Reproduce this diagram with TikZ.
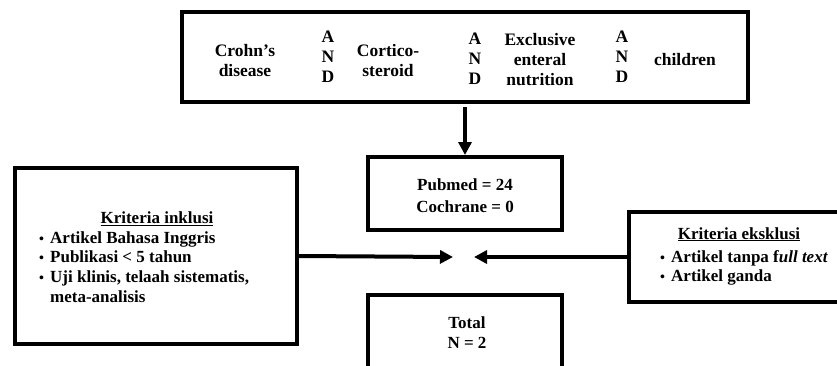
\documentclass[tikz,border=0pt]{standalone}
\usepackage{fontspec}
\setmainfont{Liberation Serif}
\usetikzlibrary{arrows.meta}
\tikzset{
  box/.style={draw=black, line width=4pt, fill=white, inner sep=0pt},
  txt/.style={font=\fontsize{17}{20}\selectfont\bfseries, inner sep=0pt, align=center},
  toptxt/.style={font=\fontsize{17.5}{20}\selectfont\bfseries, inner sep=0pt, align=center},
  line/.style={font=\fontsize{17}{20}\selectfont\bfseries, inner sep=0pt, anchor=base west},
  bul/.style={font=\fontsize{14}{16}\selectfont\bfseries, inner sep=0pt, anchor=base west},
  conn/.style={line width=4pt, -{Triangle[length=13pt,width=13pt]}},
}
\begin{document}
\begin{tikzpicture}[x=1pt,y=-1pt]
\useasboundingbox (0,0) rectangle (837,365);
\clip (0,0) rectangle (837,365);
% boxes
\node[box, minimum width=566pt, minimum height=90pt] (search) at (465,57) {};
\node[box, minimum width=194pt, minimum height=73pt] (db) at (465,193.5) {};
\node[box, minimum width=282pt, minimum height=176pt] (incl) at (156,256) {};
\node[box, minimum width=240pt, minimum height=90pt] (excl) at (749,257) {};
\node[box, minimum width=194pt, minimum height=130pt] (total) at (465,360) {};
% top box texts
\node[toptxt] (t1) at (245,61) {Crohn’s\\disease};
\node[toptxt] (and1) at (328,57) {A\\N\\D};
\node[toptxt] (t2) at (388,61) {Cortico-\\steroid};
\node[toptxt] (and2) at (475,59) {A\\N\\D};
\node[toptxt] (t3) at (540,60) {Exclusive\\enteral\\nutrition};
\node[toptxt] (and3) at (622,57) {A\\N\\D};
\node[toptxt] (t4) at (685,60) {children};
% db text
\node[txt, font=\fontsize{17}{22}\selectfont\bfseries] (dbt) at (465,195.5) {Pubmed = 24\\Cochrane = 0};
% total text
\node[txt] (tot) at (467,332.5) {Total\\N = 2};
% inclusion
\node[txt, anchor=base] (ih) at (157,223.6) {\underline{Kriteria inklusi}};
\node[bul] (ib1) at (39,243.6) {\textbullet};
\node[line] (il1) at (50,243.6) {Artikel Bahasa Inggris};
\node[bul] (ib2) at (39,262.6) {\textbullet};
\node[line] (il2) at (50,262.6) {Publikasi < 5 tahun};
\node[bul] (ib3) at (39,282.6) {\textbullet};
\node[line] (il3) at (50,282.6) {Uji klinis, telaah sistematis,};
\node[line] (il4) at (50,302.6) {meta-analisis};
% exclusion
\node[txt, anchor=base] (eh) at (739,239) {\underline{Kriteria eksklusi}};
\node[bul] (eb1) at (660,262.5) {\textbullet};
\node[line] (el1) at (671,262.5) {Artikel tanpa f\textit{ull text}};
\node[bul] (eb2) at (660,281.5) {\textbullet};
\node[line] (el2) at (671,281.5) {Artikel ganda};
% connectors
\coordinate (mL) at (453,257);
\coordinate (mR) at (474,257);
\draw[conn, shorten <=3pt] (search.south) -- (db.north);
\draw[conn] (incl.east) -- (mL);
\draw[conn] (excl.west) -- (mR);
\end{tikzpicture}
\end{document}
